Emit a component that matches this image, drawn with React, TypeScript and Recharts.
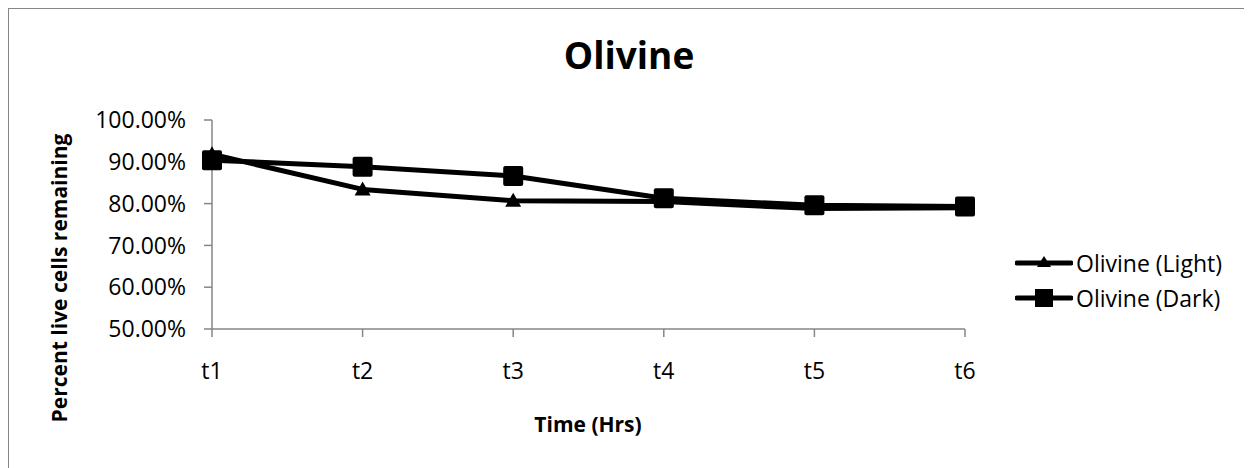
import React from "react";
import { Legend, Line, LineChart, XAxis, YAxis } from "recharts";

// time points and % of live cells
const times = ["t1", "t2", "t3", "t4", "t5", "t6"];
const lightValues = [91.8, 83.4, 80.7, 80.5, 78.8, 79.0];
const darkValues = [90.4, 88.8, 86.6, 81.3, 79.6, 79.3];
const yTicks = [50, 60, 70, 80, 90, 100];

const seriesNames = { light: "Olivine (Light)", dark: "Olivine (Dark)" };
const legendOrder = ["light", "dark"];

const chartData = times.map((t, i) => ({ time: t, light: lightValues[i], dark: darkValues[i] }));

const FONT = "'Open Sans', sans-serif";
const AXIS_GRAY = "#868686";

const SquareDot = (props: any) => {
    const { cx, cy } = props;
    if (cx == null || cy == null) return <g />;
    return <rect x={cx - 10} y={cy - 10} width={20} height={20} rx={2} fill="#000" />;
};

const TriangleDot = (props: any) => {
    const { cx, cy } = props;
    if (cx == null || cy == null) return <g />;
    return <path d={`M${cx},${cy - 8} L${cx + 8},${cy + 6} L${cx - 8},${cy + 6} Z`} fill="#000" />;
};

const renderLegend = (props: any) => {
    const payload = [...(props.payload || [])].sort(
        (a: any, b: any) => legendOrder.indexOf(a.dataKey) - legendOrder.indexOf(b.dataKey)
    );
    return (
        <div style={{ fontFamily: FONT, fontSize: 23, color: "#000" }}>
            {payload.map((entry: any) => (
                <div key={entry.dataKey} style={{ display: "flex", alignItems: "center", height: 35 }}>
                    <svg width={58} height={22} style={{ marginRight: 3 }}>
                        <line x1={2} y1={11} x2={56} y2={11} stroke="#000" strokeWidth={5} strokeLinecap="round" />
                        {entry.dataKey === "dark" ? (
                            <rect x={20} y={2} width={18} height={18} fill="#000" />
                        ) : (
                            <path d="M29,4 L36,15 L22,15 Z" fill="#000" />
                        )}
                    </svg>
                    <span>{entry.value}</span>
                </div>
            ))}
        </div>
    );
};

export default function App() {
    const width = 1242;
    const height = 478;

    return (
        <div style={{ position: "relative", width, height, border: `1px solid ${AXIS_GRAY}`, background: "#fff", fontFamily: FONT }}>
            <LineChart width={width} height={height} data={chartData} margin={{ top: 111, right: 286, left: 0, bottom: 98 }}>
                <XAxis
                    dataKey="time"
                    interval={0}
                    height={60}
                    stroke={AXIS_GRAY}
                    strokeWidth={1.5}
                    tickSize={8}
                    tickMargin={26}
                    tick={{ fill: "#000", fontSize: 23, fontFamily: FONT }}
                />
                <YAxis
                    domain={[50, 100]}
                    ticks={yTicks}
                    width={203}
                    stroke={AXIS_GRAY}
                    strokeWidth={1.5}
                    tickSize={8}
                    tickMargin={18}
                    tick={{ fill: "#000", fontSize: 23, fontFamily: FONT }}
                    tickFormatter={(v) => `${Number(v).toFixed(2)}%`}
                />
                <Legend
                    layout="vertical"
                    align="center"
                    verticalAlign="middle"
                    content={renderLegend}
                    wrapperStyle={{ left: 1006, top: 236, width: 230 }}
                />
                <Line
                    type="linear"
                    dataKey="light"
                    name={seriesNames.light}
                    stroke="#000"
                    strokeWidth={5}
                    strokeLinejoin="round"
                    dot={(p: any) => <TriangleDot key={`l-${p.index}`} {...p} />}
                    activeDot={false}
                    isAnimationActive={false}
                />
                <Line
                    type="linear"
                    dataKey="dark"
                    name={seriesNames.dark}
                    stroke="#000"
                    strokeWidth={5}
                    strokeLinejoin="round"
                    dot={(p: any) => <SquareDot key={`d-${p.index}`} {...p} />}
                    activeDot={false}
                    isAnimationActive={false}
                />
            </LineChart>
            <svg width={width} height={height} style={{ position: "absolute", left: 0, top: 0, pointerEvents: "none" }}>
                <text x={620} y={60} textAnchor="middle" fontFamily={FONT} fontWeight={700} fontSize={37} fill="#000">
                    Olivine
                </text>
                <text x={579} y={423} textAnchor="middle" fontFamily={FONT} fontWeight={700} fontSize={21} fill="#000">
                    Time (Hrs)
                </text>
                <text
                    x={58}
                    y={269}
                    textAnchor="middle"
                    transform="rotate(-90, 58, 269)"
                    fontFamily={FONT}
                    fontWeight={700}
                    fontSize={21}
                    fill="#000"
                >
                    Percent live cells remaining
                </text>
            </svg>
        </div>
    );
}
